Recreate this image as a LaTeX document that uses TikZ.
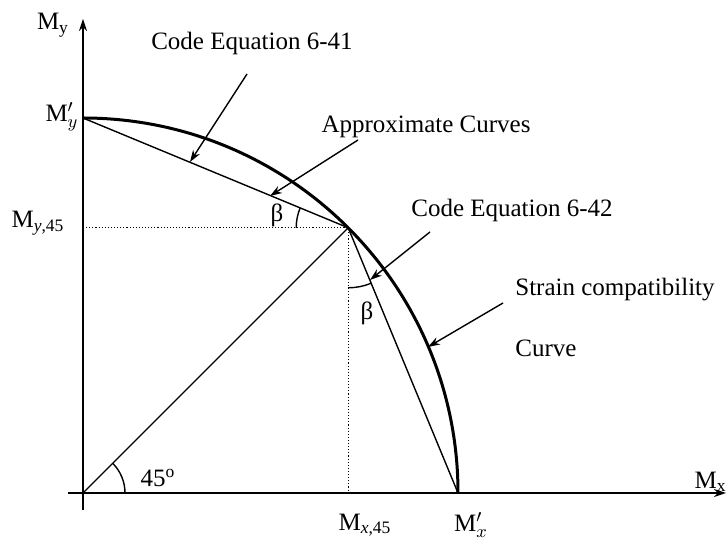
\documentclass[tikz,border=0pt]{standalone}
\usepackage{fontspec}
\setmainfont{Liberation Serif}
\usetikzlibrary{arrows.meta}
\begin{document}
\begin{tikzpicture}[x=0.5pt,y=0.5pt,
  lbl/.style={font=\fontsize{12.5}{15}\selectfont, inner sep=0pt},
  axis/.style={line width=0.7pt,-{Stealth[length=6pt,width=4pt]}},
  thinline/.style={line width=0.7pt},
  guide/.style={line width=0.55pt,densely dotted},
  pointer/.style={line width=0.7pt,-{Stealth[length=6pt,width=4pt]}},
  strain/.style={line width=1.5pt}]
\useasboundingbox (-83,-46) rectangle (645,493);
% key points
\coordinate (O) at (0,0);
\coordinate (Myp) at (0,375);
\coordinate (P) at (265.2,265.2);
\coordinate (Mxp) at (375,0);
\coordinate (Py) at (0,265.2);
\coordinate (Px) at (265.2,0);
\coordinate (yb) at (0,-17);
\coordinate (yt) at (0,474);
\coordinate (xl) at (-15,0);
\coordinate (xr) at (643,0);
% axes
\draw[axis] (yb) -- (yt);
\draw[axis] (xl) -- (xr);
% strain compatibility curve
\draw[strain] (Myp) arc[start angle=90,end angle=0,radius=375];
% approximate lines
\draw[thinline] (Myp) -- (P) -- (Mxp);
\draw[thinline] (O) -- (P);
% guides
\draw[guide] (Py) -- (P) -- (Px);
% angle arcs
\draw[thinline] (O) ++(0:42) arc[start angle=0,end angle=45,radius=42];
\draw[thinline] (P) ++(180:52) arc[start angle=180,end angle=157.5,radius=52];
\draw[thinline] (P) ++(270:60) arc[start angle=270,end angle=292.5,radius=60];
% labels
\node[lbl] (t41) at (169,450) {Code Equation 6-41};
\node[lbl] (tapp) at (343,366) {Approximate Curves};
\node[lbl] (t42) at (429,283) {Code Equation 6-42};
\node[lbl] (tsc) at (532,203) {Strain compatibility};
\node[lbl] (tcurve) at (463,145) {Curve};
\node[lbl] (b1) at (194,278) {β};
\node[lbl] (b2) at (284,180) {β};
\node[lbl] (a45) at (75,15) {45\textsuperscript{o}};
\node[lbl] (lMy) at (-30,468) {M\textsubscript{y}};
\node[lbl] (lMyp) at (-21,376) {M$'_{y}$};
\node[lbl] (lMy45) at (-45,270) {M\textsubscript{\textit{y},45}};
\node[lbl] (lMx45) at (282,-32) {M\textsubscript{\textit{x},45}};
\node[lbl] (lMxp) at (388,-32) {M$'_{x}$};
\node[lbl,anchor=east] (lMx) at (644,11) {M\textsubscript{x}};
% pointers
\coordinate (s41) at (164,419); \coordinate (e41) at (107,331);
\coordinate (sap) at (275,353); \coordinate (eap) at (187,297);
\coordinate (s42) at (347,261); \coordinate (e42) at (287,213);
\coordinate (ssc) at (420,190); \coordinate (esc) at (345,146);
\draw[pointer] (s41) -- (e41);
\draw[pointer] (sap) -- (eap);
\draw[pointer] (s42) -- (e42);
\draw[pointer] (ssc) -- (esc);
\end{tikzpicture}
\end{document}
